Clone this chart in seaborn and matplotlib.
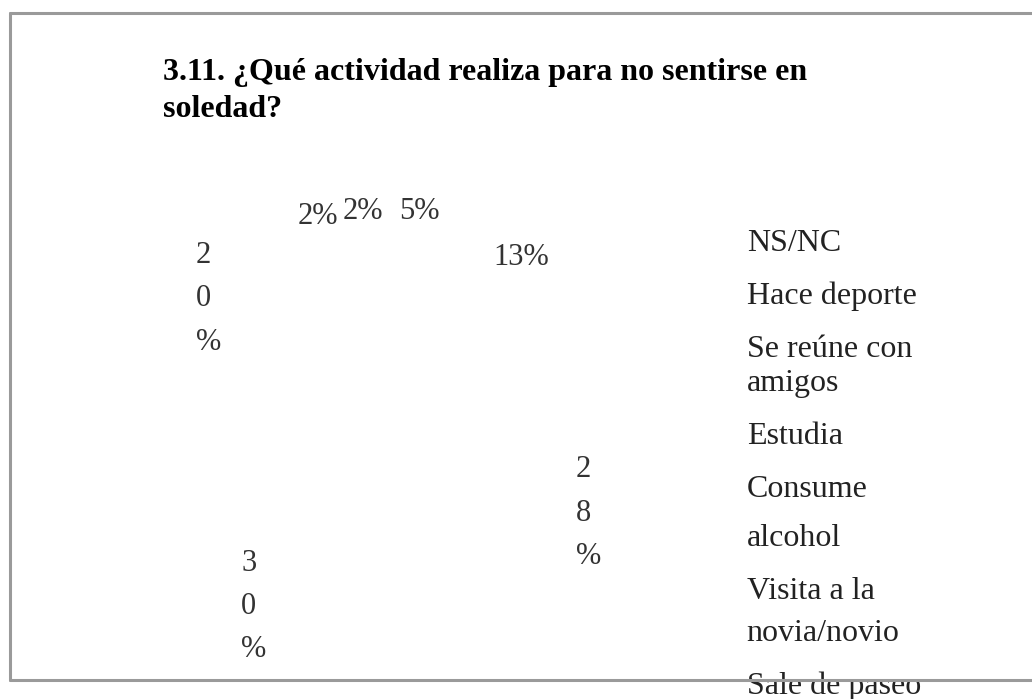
import matplotlib
matplotlib.use("Agg")
import matplotlib.pyplot as plt
import seaborn as sns

sns.set_theme(style="white")
plt.rcParams['font.family'] = ['Liberation Serif', 'DejaVu Serif']

# data, clockwise from the top of the pie
categorias = ["NS/NC", "Hace deporte", "Se reúne con\namigos", "Estudia",
              "Consume\nalcohol", "Visita a la\nnovia/novio", "Sale de paseo"]
porcentajes = [5, 13, 28, 30, 20, 2, 2]
titulo = "3.11. ¿Qué actividad realiza para no sentirse en\nsoledad?"


def etiqueta(p):
    s = f"{p:.0f}%"
    # the wide slices got their label wrapped one char per line
    if p >= 15:
        s = "\n".join(s)
    return s


fig = plt.figure(figsize=(10.32, 6.99), dpi=100)
fig.patch.set_facecolor("white")

# square axes (in pixels) centred on the pie
cx, cy, r = 385, 430, 220
ax = fig.add_axes([(cx - r) / 1032, 1 - (cy + r) / 699, 2 * r / 1032, 2 * r / 699])
wedges, textos, autotextos = ax.pie(
    porcentajes, labels=None, autopct=etiqueta, startangle=93,
    counterclock=False, radius=0.8, pctdistance=1.25,
    colors=["white"] * len(porcentajes),
    wedgeprops=dict(linewidth=0, edgecolor="white"),
    textprops=dict(fontsize=22, color="#333333"))
for t in autotextos:
    t.set_multialignment("left")
    t.set_linespacing(1.65)
ax.set_xlim(-1, 1)
ax.set_ylim(-1, 1)
ax.set_aspect("auto")
ax.axis("off")

leg = fig.legend(wedges, categorias, loc="upper left",
                 bbox_to_anchor=(0.708, 0.696), frameon=False,
                 handlelength=0, handletextpad=0, borderpad=0,
                 labelspacing=0.75, fontsize=23)
for h in leg.legend_handles:
    h.set_visible(False)
esp = [1.2, 1.2, 1.2, 1.2, 1.9, 1.6, 1.2]
for t, ls in zip(leg.get_texts(), esp):
    t.set_color("#222222")
    t.set_linespacing(ls)

fig.text(0.158, 0.917, titulo, fontsize=23, fontweight="bold",
         ha="left", va="top", color="black", linespacing=1.37)

# push apart pie labels that collide (small neighbouring slices)
fig.canvas.draw()
rend = fig.canvas.get_renderer()
inv = ax.transData.inverted()
for _ in range(6):
    movido = False
    for i in range(len(autotextos)):
        for j in range(i + 1, len(autotextos)):
            a, b = autotextos[i], autotextos[j]
            ea, eb = a.get_window_extent(rend), b.get_window_extent(rend)
            if not ea.overlaps(eb):
                continue
            d = (min(ea.x1, eb.x1) - max(ea.x0, eb.x0)) / 2 + 8
            izq, der = (a, b) if ea.x0 <= eb.x0 else (b, a)
            for t, s in ((izq, -1), (der, 1)):
                px, py = ax.transData.transform(t.get_position())
                t.set_position(inv.transform((px + s * d, py)))
            movido = True
    if not movido:
        break

# grey frame of the original chart (no right edge visible)
kw = dict(color="#9a9a9a", lw=2.2, zorder=10)
fig.add_artist(plt.Line2D([10 / 1032, 1.0], [1 - 13 / 699] * 2,
                          transform=fig.transFigure, **kw))
fig.add_artist(plt.Line2D([10 / 1032, 1.0], [1 - 680 / 699] * 2,
                          transform=fig.transFigure, **kw))
fig.add_artist(plt.Line2D([10 / 1032] * 2, [1 - 13 / 699, 1 - 680 / 699],
                          transform=fig.transFigure, **kw))

fig.savefig("out.png", dpi=100)
